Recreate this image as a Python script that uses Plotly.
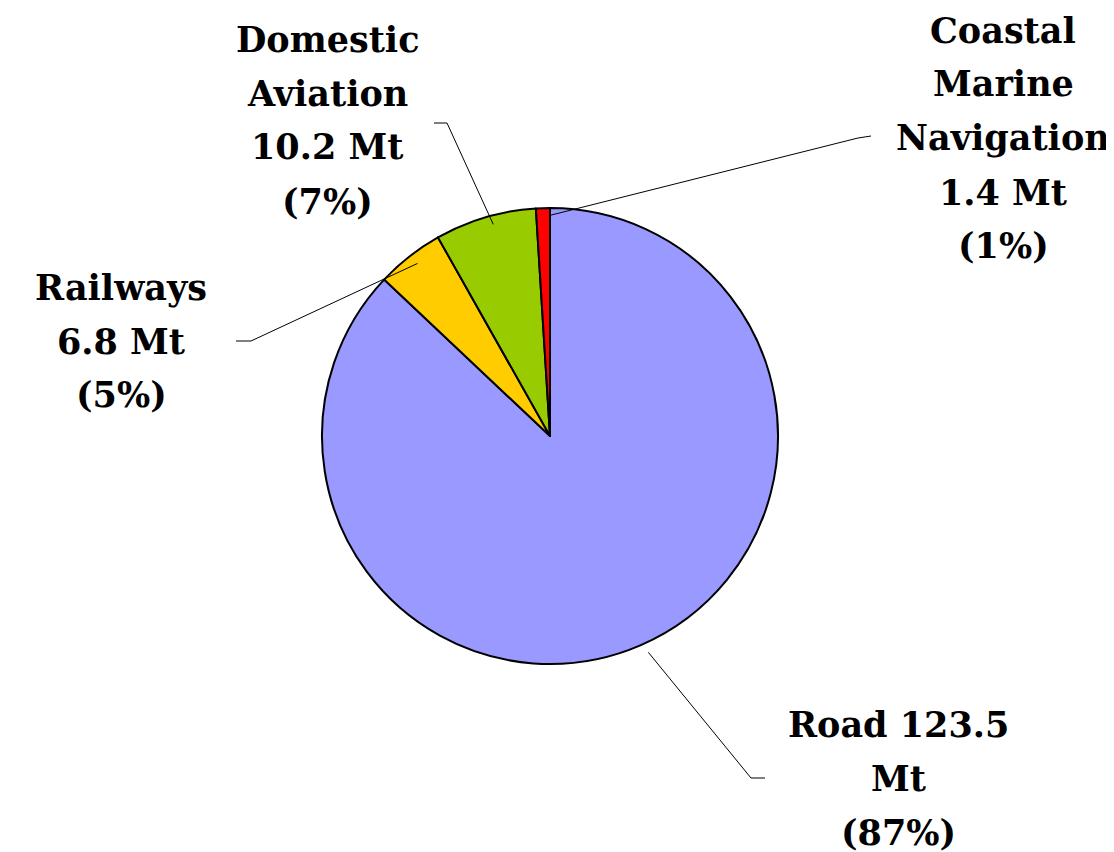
import math
import plotly.graph_objects as go

W, H = 1114, 852

categories = ["Road", "Railways", "Domestic Aviation", "Coastal Marine Navigation"]
values = [123.5, 6.8, 10.2, 1.4]
percents = ["87%", "5%", "7%", "1%"]
colors = ["#9999FF", "#FFCC00", "#99CC00", "#FF0000"]

# label text lines per category
label_lines = [
    ["Road 123.5", "Mt", "(87%)"],
    ["Railways", "6.8 Mt", "(5%)"],
    ["Domestic", "Aviation", "10.2 Mt", "(7%)"],
    ["Coastal", "Marine", "Navigation", "1.4 Mt", "(1%)"],
]

# layout: pie centre & radius in px
cx, cy, r = 550, 435, 228
dom_dx, dom_dy = -8, -7  # plotly offset correction
# label placement (centre x, first line y) and leader elbow / end in px
label_pos = [(890, 716), (113, 279), (319, 31), (995, 22)]
elbows = [((743, 770), (757, 770)), ((243, 333), (228, 333)),
          ((439, 115), (426, 115)), ((850, 130), (863, 128))]
line_gap = 54

def paper(px, py):
    return px / W, 1 - py / H

fig = go.Figure(go.Pie(
    labels=categories, values=values, sort=False, direction="clockwise",
    rotation=0, marker=dict(colors=colors, line=dict(color="black", width=2)),
    textinfo="none", hoverinfo="label+value+percent", showlegend=False,
    domain=dict(x=[(cx - r + dom_dx) / W, (cx + r + dom_dx) / W],
                y=[1 - (cy + r + dom_dy) / H, 1 - (cy - r + dom_dy) / H]),
))

total = sum(values)
cum = 0
shapes = []
annotations = []
font = dict(family="DejaVu Serif", size=35, color="black")
for i, v in enumerate(values):
    mid = (cum + v / 2) / total * 2 * math.pi
    cum += v
    sx = cx + r * math.sin(mid)
    sy = cy - r * math.cos(mid)
    (ex, ey), (tx, ty) = elbows[i]
    p0 = paper(sx, sy); p1 = paper(ex, ey); p2 = paper(tx, ty)
    shapes.append(dict(type="path", xref="paper", yref="paper",
                       path=f"M {p0[0]},{p0[1]} L {p1[0]},{p1[1]} L {p2[0]},{p2[1]}",
                       line=dict(color="black", width=1)))
    lx, ly = label_pos[i]
    for j, t in enumerate(label_lines[i]):
        px, py = paper(lx, ly + j * line_gap)
        annotations.append(dict(x=px, y=py, xref="paper", yref="paper", text=f"<b>{t}</b>",
                                showarrow=False, xanchor="center", yanchor="middle", font=font))

fig.update_layout(width=W, height=H, margin=dict(l=0, r=0, t=0, b=0),
                  paper_bgcolor="white", plot_bgcolor="white",
                  shapes=shapes, annotations=annotations)
fig.write_html("out.html")
